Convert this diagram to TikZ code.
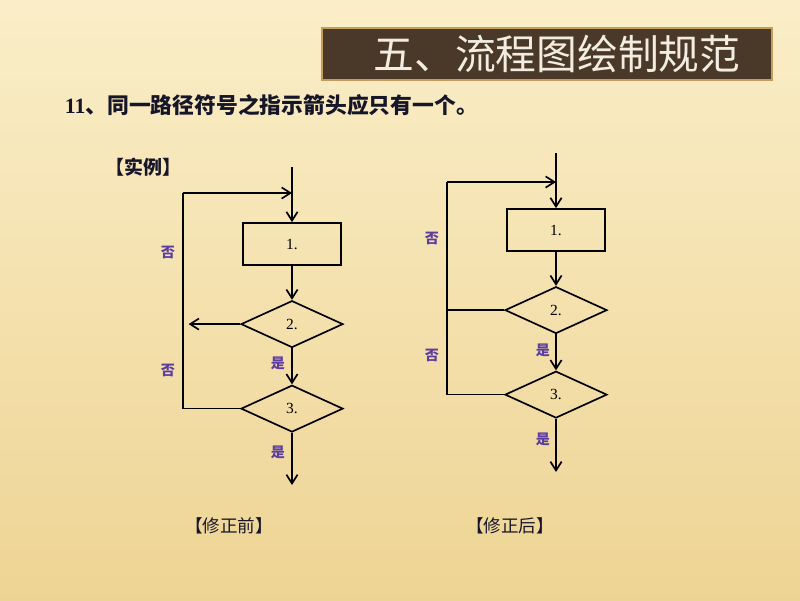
\documentclass[tikz,border=0pt]{standalone}
\usepackage{fontspec}
\setmainfont{Liberation Serif}
\newfontfamily\cjk{Noto Sans CJK SC}
\usetikzlibrary{shapes.geometric}
\usetikzlibrary{positioning,arrows.meta}

\definecolor{bgtop}{RGB}{250,238,200}
\definecolor{bgbot}{RGB}{238,212,148}
\definecolor{titlebrown}{RGB}{74,57,40}
\definecolor{titleedge}{RGB}{196,156,96}
\definecolor{labelpurple}{RGB}{92,60,160}
\definecolor{inkdark}{RGB}{22,22,40}

\tikzset{
    procbox/.style={
        draw, line width=1.2pt, rectangle,
        minimum width=2.45cm, minimum height=1.05cm,
        inner sep=0pt, font=\fontsize{11}{11}\selectfont
    },
    decision/.style={
        draw, line width=1.2pt, diamond, aspect=2.2,
        minimum width=2.55cm, minimum height=1.17cm,
        inner sep=0pt, font=\fontsize{11}{11}\selectfont
    },
    yesno/.style={
        text=labelpurple, font=\cjk\bfseries\fontsize{10}{10}\selectfont
    },
    caption/.style={
        text=inkdark, font=\cjk\fontsize{12.5}{12.5}\selectfont
    }
}

\begin{document}
\begin{tikzpicture}[
    x=0.025cm, y=-0.025cm,
    line/.style={line width=1.2pt},
    arrow/.style={line width=1.2pt, -{Straight Barb[length=2.2mm,width=2.8mm]}},
]

% ============ Background ============

\useasboundingbox (0,0) rectangle (800,600);
\shade[top color=bgtop, bottom color=bgbot] (0,0) rectangle (800,600);

\node[draw=titleedge, line width=1.5pt, fill=titlebrown,
      minimum width=11.25cm, minimum height=1.32cm] (title) at (547,54) {};
\node[text={rgb,255:red,242;green,236;blue,226},
      font=\cjk\fontsize{29}{29}\selectfont] at (557,54) {五、流程图绘制规范};

\node[anchor=west, text=inkdark, font=\bfseries\fontsize{15.5}{15.5}\selectfont] (rule) at (60,105)
    {11\cjk 、同一路径符号之指示箭头应只有一个。};
\node[anchor=west, text=inkdark, font=\cjk\bfseries\fontsize{13.5}{13.5}\selectfont] (example) at (101,167)
    {【实例】};

% ============ Before ============

\coordinate (lstart) at (292,167);
\node[procbox] (lbox1) at (292,244) {1.};
\node[decision, below=0.85cm of lbox1] (ldia2) {2.};
\node[decision, below=0.9cm of ldia2] (ldia3) {3.};
\coordinate (lend) at (292,485);
\coordinate (lcorner) at (183,193);
\coordinate (ljoin) at (292,193);

\draw[arrow] (lstart) -- (lbox1);
\draw[arrow] (lbox1) -- (ldia2);
\draw[arrow] (ldia2) -- (ldia3);
\draw[arrow] (ldia3) -- (lend);
\draw[arrow] (ldia2.west) -- ([xshift=4] ldia2.west -| lcorner);
\draw[line] (ldia3.west) -| (lcorner);
\draw[arrow] (lcorner) -- (ljoin);

\node[yesno] at (168,252) {否};
\node[yesno] at (168,370) {否};
\node[yesno] at (278,363) {是};
\node[yesno] at (278,452) {是};

\node[caption] (before) at (229,526) {【修正前】};

% ============ After ============

\coordinate (rstart) at (556,153);
\node[procbox] (rbox1) at (556,230) {1.};
\node[decision, below=0.85cm of rbox1] (rdia2) {2.};
\node[decision, below=0.9cm of rdia2] (rdia3) {3.};
\coordinate (rend) at (556,472);
\coordinate (rcorner) at (447,182);
\coordinate (rjoin) at (556,182);

\draw[arrow] (rstart) -- (rbox1);
\draw[arrow] (rbox1) -- (rdia2);
\draw[arrow] (rdia2) -- (rdia3);
\draw[arrow] (rdia3) -- (rend);
\draw[line] (rdia2.west) -- (rdia2.west -| rcorner);
\draw[line] (rdia3.west) -| (rcorner);
\draw[arrow] (rcorner) -- (rjoin);

\node[yesno] at (432,238) {否};
\node[yesno] at (432,355) {否};
\node[yesno] at (543,350) {是};
\node[yesno] at (543,439) {是};

\node[caption] (after) at (510,526) {【修正后】};

\end{tikzpicture}
\end{document}
